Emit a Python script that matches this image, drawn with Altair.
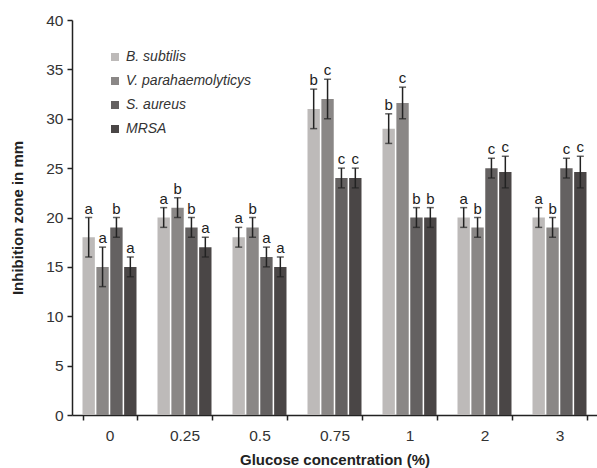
import altair as alt
import pandas as pd

concentrations = ["0", "0.25", "0.5", "0.75", "1", "2", "3"]
series = ["B. subtilis", "V. parahaemolyticys", "S. aureus", "MRSA"]
colors = ["#bdbab9", "#8a8786", "#646161", "#4a4646"]

means = {
    "B. subtilis":         [18, 20, 18, 31, 29, 20, 20],
    "V. parahaemolyticys": [15, 21, 19, 32, 31.6, 19, 19],
    "S. aureus":           [19, 19, 16, 24, 20, 25, 25],
    "MRSA":                [15, 17, 15, 24, 20, 24.6, 24.6],
}
errors = {
    "B. subtilis":         [2, 1, 1, 2, 1.5, 1, 1],
    "V. parahaemolyticys": [2, 1, 1, 2, 1.6, 1, 1],
    "S. aureus":           [1, 1, 1, 1, 1, 1, 1],
    "MRSA":                [1, 1, 1, 1, 1, 1.6, 1.6],
}
letters = {
    "B. subtilis":         ["a", "a", "a", "b", "b", "a", "a"],
    "V. parahaemolyticys": ["a", "b", "b", "c", "c", "b", "b"],
    "S. aureus":           ["b", "b", "a", "c", "b", "c", "c"],
    "MRSA":                ["a", "a", "a", "c", "b", "c", "c"],
}

rows = []
for s in series:
    for i, c in enumerate(concentrations):
        m = means[s][i]
        e = errors[s][i]
        rows.append({"conc": c, "series": s, "mean": m, "lo": m - e, "hi": m + e,
                     "letter": letters[s][i]})
df = pd.DataFrame(rows)

FONT = "Liberation Sans"

x = alt.X("conc:N", sort=concentrations,
          scale=alt.Scale(paddingInner=0.28, paddingOuter=0.14),
          axis=alt.Axis(title="Glucose concentration (%)", labelAngle=0,
                        tickBand="extent", tickSize=5, labelPadding=8,
                        titlePadding=9))
xo = alt.XOffset("series:N", sort=series, scale=alt.Scale(paddingInner=0.11))

base = alt.Chart(df)

bars = base.mark_bar().encode(
    x=x, xOffset=xo,
    y=alt.Y("mean:Q", scale=alt.Scale(domain=[0, 40]),
            axis=alt.Axis(title="Inhibition zone in mm", values=list(range(0, 41, 5)),
                          tickSize=5, labelPadding=4, titlePadding=20)),
    color=alt.Color("series:N", sort=series,
                    scale=alt.Scale(domain=series, range=colors),
                    legend=alt.Legend(title=None, orient="none", legendX=36, legendY=30,
                                      symbolType="square", symbolSize=64,
                                      symbolStrokeWidth=0, labelFontSize=14,
                                      labelFont=FONT, labelColor="#333333",
                                      labelFontStyle="italic",
                                      rowPadding=10, labelOffset=4)),
)

rule = base.mark_rule(color="#222222", strokeWidth=1.5).encode(
    x=x, xOffset=xo, y="lo:Q", y2="hi:Q")
cap_lo = base.mark_tick(color="#222222", size=7, thickness=1.5).encode(
    x=x, xOffset=xo, y="lo:Q")
cap_hi = base.mark_tick(color="#222222", size=7, thickness=1.5).encode(
    x=x, xOffset=xo, y="hi:Q")
text = base.mark_text(baseline="bottom", dy=-1, fontSize=15, font=FONT,
                      color="#222222").encode(
    x=x, xOffset=xo, y="hi:Q", text="letter:N")

chart = alt.layer(bars, rule, cap_lo, cap_hi, text).properties(
    width=525, height=395,
    padding={"left": 72, "top": 20, "right": 0, "bottom": 53},
    autosize=alt.AutoSizeParams(type="none"),
).configure_view(stroke=None).configure_axis(
    labelFont=FONT, titleFont=FONT, labelFontSize=15.5, titleFontSize=15,
    titleFontWeight="bold", labelColor="#333333", titleColor="#222222",
    domainColor="#222222", tickColor="#222222", domainWidth=1.5, tickWidth=1.5,
    grid=False,
)

chart.save("out.html", embed_options={"renderer": "svg", "actions": False})
